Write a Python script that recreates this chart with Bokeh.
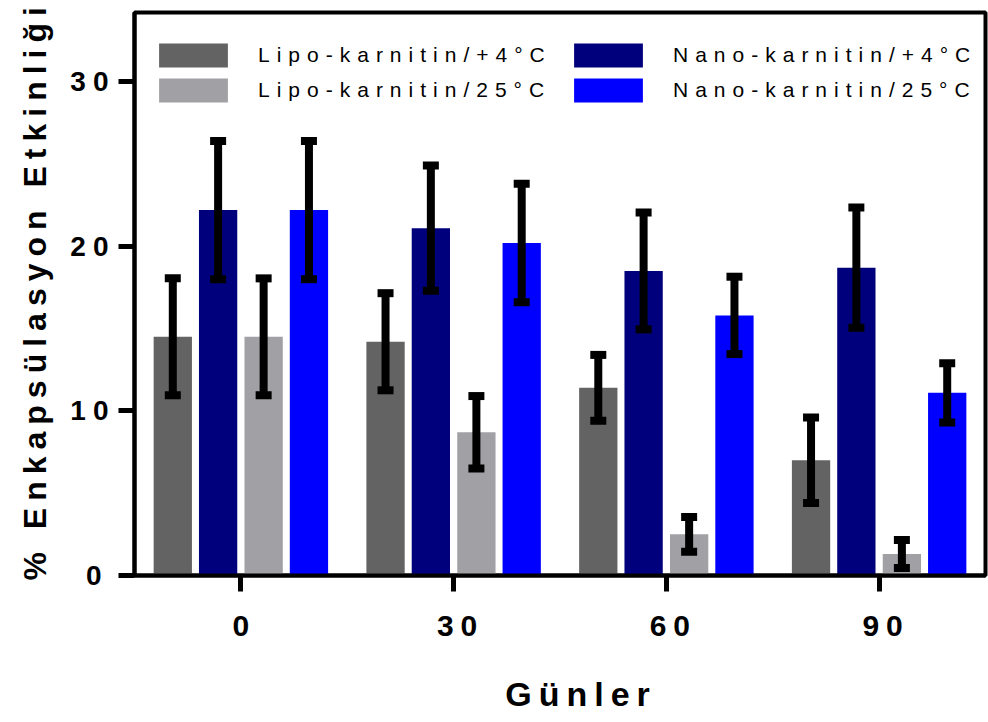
from bokeh.plotting import figure
from bokeh.models import (ColumnDataSource, Range1d, FixedTicker, Legend, LegendItem, Title)
from bokeh.transform import dodge
from bokeh.embed import file_html
from bokeh.resources import INLINE

# ---- data ----
days = ["0", "30", "60", "90"]
lipo_4 = [14.5, 14.2, 11.4, 7.0]
lipo_4_sd = [3.55, 2.95, 2.0, 2.6]
nano_4 = [22.2, 21.1, 18.5, 18.7]
nano_4_sd = [4.2, 3.8, 3.55, 3.65]
lipo_25 = [14.5, 8.7, 2.5, 1.3]
lipo_25_sd = [3.55, 2.2, 1.05, 0.85]
nano_25 = [22.2, 20.2, 15.8, 11.1]
nano_25_sd = [4.2, 3.6, 2.35, 1.8]

series_names = ["Lipo-karnitin/+4°C", "Nano-karnitin/+4°C",
                "Lipo-karnitin/25°C", "Nano-karnitin/25°C"]
series_vals = [lipo_4, nano_4, lipo_25, nano_25]
series_sds = [lipo_4_sd, nano_4_sd, lipo_25_sd, nano_25_sd]
colors = ["#636363", "#00007C", "#A1A1A5", "#0000FF"]
offsets = [-0.32, -0.107, 0.107, 0.32]

y_title = "% Enkapsülasyon Etkinliği"
x_title = "Günler"

FONT = "Liberation Sans"

p = figure(width=988, height=722, output_backend="svg", toolbar_location=None,
           x_range=Range1d(-0.5, 3.5), y_range=Range1d(0, 34.2),
           min_border_left=133, min_border_right=3, min_border_top=12,
           min_border_bottom=147)
p.styles = {"letter-spacing": "7px"}

renderers = []
for name, vals, sds, col, off in zip(series_names, series_vals, series_sds, colors, offsets):
    src = ColumnDataSource(dict(
        idx=list(range(len(days))),
        top=vals,
        lo=[v - s for v, s in zip(vals, sds)],
        hi=[v + s for v, s in zip(vals, sds)],
    ))
    r = p.vbar(x=dodge("idx", off, range=p.x_range), top="top", bottom=0, width=0.18,
               source=src, fill_color=col, line_color=None)
    renderers.append(r)
    p.segment(x0=dodge("idx", off, range=p.x_range), y0="lo",
              x1=dodge("idx", off, range=p.x_range), y1="hi",
              source=src, line_color="black", line_width=8)
    for key in ("lo", "hi"):
        p.rect(x=dodge("idx", off, range=p.x_range), y=key, width=16, height=8,
               width_units="screen", height_units="screen", source=src,
               fill_color="black", line_color=None)

# axes
p.xgrid.visible = False
p.ygrid.visible = False
p.outline_line_color = "black"
p.outline_line_width = 4

p.xaxis.ticker = FixedTicker(ticks=list(range(len(days))))
p.xaxis.major_label_overrides = {i: d for i, d in enumerate(days)}
p.yaxis.ticker = FixedTicker(ticks=[0, 10, 20, 30])

for ax in (p.xaxis[0], p.yaxis[0]):
    ax.axis_line_width = 4
    ax.axis_line_color = "black"
    ax.major_tick_line_width = 5
    ax.major_tick_in = 0
    ax.major_tick_out = 16
    ax.minor_tick_line_color = None
    ax.major_label_text_font = FONT
    ax.major_label_text_font_style = "bold"
    ax.major_label_text_color = "black"
    ax.axis_label_text_font = FONT
    ax.axis_label_text_font_style = "bold"
    ax.axis_label_text_color = "black"

p.xaxis.major_label_text_font_size = "30px"
p.xaxis.major_label_standoff = 24
p.xaxis.axis_label = x_title
p.xaxis.axis_label_text_font_size = "34px"
p.xaxis.axis_label_standoff = 36

p.yaxis.major_label_text_font_size = "28px"
p.yaxis.major_label_standoff = 17

# y title as a side title, starting at the bottom of the frame
p.add_layout(Title(text=y_title, align="left", offset=-5, standoff=29,
                   vertical_align="bottom", text_font=FONT, text_font_size="32px",
                   text_font_style="bold", text_color="black"), "left")

# legends (two columns)
def make_legend(items, loc):
    return Legend(items=items, location=loc, orientation="vertical",
                  glyph_width=86, glyph_height=30, label_standoff=22, spacing=5,
                  padding=0, margin=0, border_line_alpha=0, background_fill_alpha=0,
                  label_text_font=FONT, label_text_font_size="21px",
                  label_text_color="black", label_height=30)

leg1 = make_legend([LegendItem(label=series_names[0], renderers=[renderers[0]]),
                    LegendItem(label=series_names[2], renderers=[renderers[2]])], (16, 470))
leg2 = make_legend([LegendItem(label=series_names[1], renderers=[renderers[1]]),
                    LegendItem(label=series_names[3], renderers=[renderers[3]])], (431, 470))
p.add_layout(leg1)
p.add_layout(leg2)

open("out.html", "w").write(file_html(p, INLINE))
